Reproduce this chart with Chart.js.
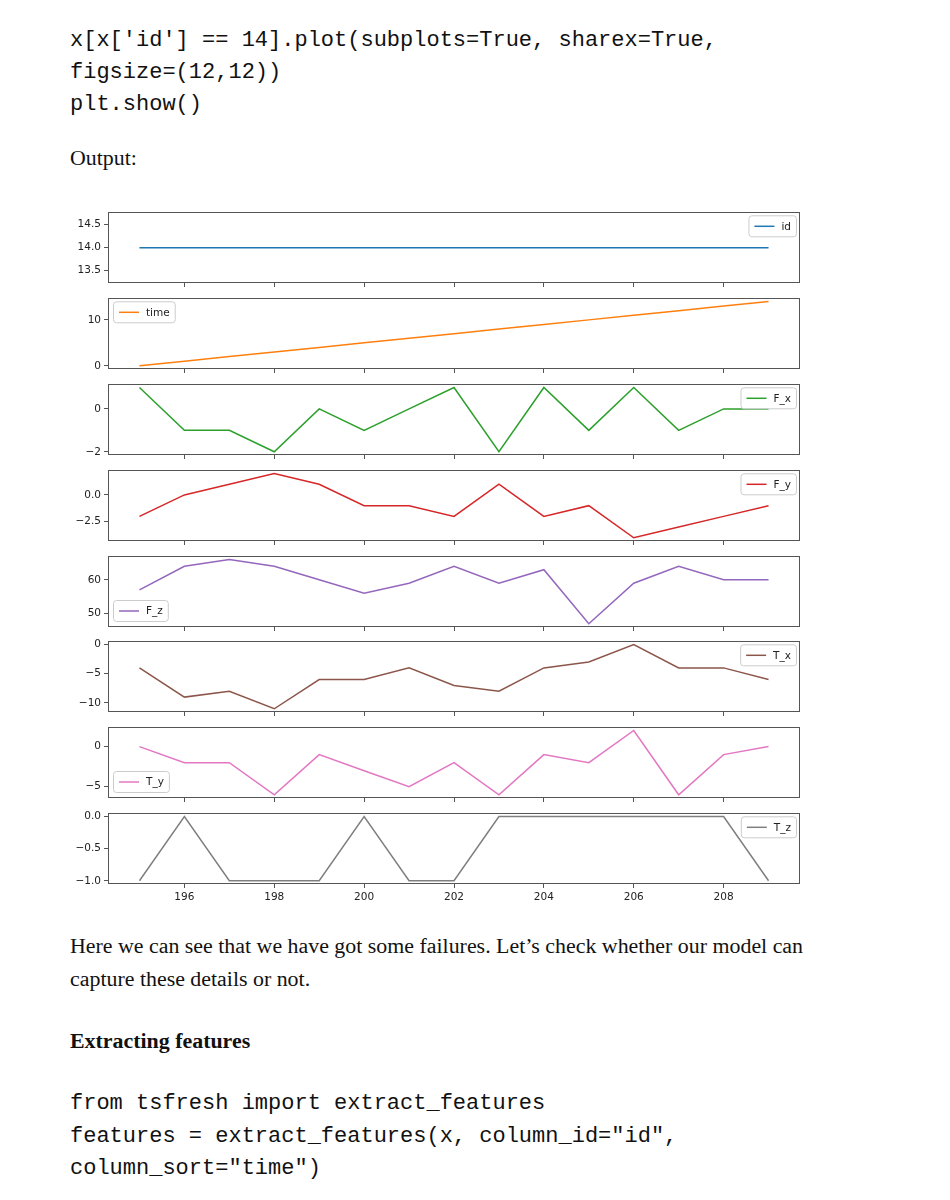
<!DOCTYPE html>
<html><head><meta charset="utf-8">
<script src="https://cdn.jsdelivr.net/npm/chart.js@4"></script>
<style>
body{margin:0;background:#fff;width:950px;height:1200px;position:relative;overflow:hidden}
.t{position:absolute;left:70px;white-space:pre;color:#111}
.mono{font-family:"Liberation Mono",monospace;font-size:22px;line-height:30px}
.serif{font-family:"Liberation Serif",serif;font-size:21.9px;line-height:30px}
.bold{font-weight:bold}
.box{position:absolute;left:60px;width:760px}
</style></head><body>
<div class="t mono" style="top:26px">x[x['id'] == 14].plot(subplots=True, sharex=True,</div>
<div class="t mono" style="top:58px">figsize=(12,12))</div>
<div class="t mono" style="top:90px">plt.show()</div>
<div class="t serif" style="top:143px">Output:</div>
<div id="charts"></div>
<div class="t serif" style="top:931px">Here we can see that we have got some failures. Let’s check whether our model can</div>
<div class="t serif" style="top:964px">capture these details or not.</div>
<div class="t serif bold" style="top:1026px">Extracting features</div>
<div class="t mono" style="top:1089px">from tsfresh import extract_features</div>
<div class="t mono" style="top:1122px">features = extract_features(x, column_id="id",</div>
<div class="t mono" style="top:1154px">column_sort="time")</div>
<script>
const xValues = [195,196,197,198,199,200,201,202,203,204,205,206,207,208,209];
const xTicks = [196,198,200,202,204,206,208];
const idVals = [14,14,14,14,14,14,14,14,14,14,14,14,14,14,14];
const timeVals = [0,1,2,3,4,5,6,7,8,9,10,11,12,13,14];
const fxVals = [1,-1,-1,-2,0,-1,0,1,-2,1,-1,1,-1,0,0];
const fyVals = [-2,0,1,2,1,-1,-1,-2,1,-2,-1,-4,-3,-2,-1];
const fzVals = [57,64,66,64,60,56,59,64,59,63,47,59,64,60,60];
const txVals = [-4,-9,-8,-11,-6,-6,-4,-7,-8,-4,-3,0,-4,-4,-6];
const tyVals = [0,-2,-2,-6,-1,-3,-5,-2,-6,-1,-2,2,-6,-1,0];
const tzVals = [-1,0,-1,-1,-1,0,-1,-1,0,0,0,0,0,0,-1];
const seriesNames = ["id","time","F_x","F_y","F_z","T_x","T_y","T_z"];
const seriesValues = [idVals,timeVals,fxVals,fyVals,fzVals,txVals,tyVals,tzVals];
const seriesColors = ["#1f77b4","#ff7f0e","#2ca02c","#d62728","#9467bd","#8c564b","#e377c2","#7f7f7f"];
const yTickValues = [[13.5,14.0,14.5],[0,10],[-2,0],[-2.5,0.0],[50,60],[-10,-5,0],[-5,0],[-1.0,-0.5,0.0]];
const yTickLabels = [["13.5","14.0","14.5"],["0","10"],["−2","0"],["−2.5","0.0"],["50","60"],["−10","−5","0"],["−5","0"],["−1.0","−0.5","0.0"]];
const yMins = [13.23,-0.7,-2.15,-4.3,46.05,-11.55,-6.4,-1.05];
const yMaxs = [14.77,14.7,1.15,2.3,66.95,0.55,2.4,0.05];
const legendPos = ["ur","ul","ur","ur","ll","ur","ll","ur"];
const xMin = 194.3, xMax = 209.7;

const axTops = [211,297,383,469,555,640,726,812];
const AXH = 72, PADT = 8, XH = 28;
const FONT = 10.5;

const framePlugin = {
  id:'frame',
  afterDraw(chart){
    const ctx = chart.ctx, a = chart.chartArea;
    ctx.save();
    ctx.strokeStyle = '#555'; ctx.lineWidth = 1;
    ctx.strokeRect(Math.round(a.left)+0.5, Math.round(a.top)+0.5, Math.round(a.right-a.left)-1, Math.round(a.bottom-a.top)-1);
    const idx = chart.options.plugins.frame.idx;
    const label = chart.data.datasets[0].label;
    const color = chart.data.datasets[0].borderColor;
    const pos = legendPos[idx];
    ctx.font = FONT + 'px "DejaVu Sans"';
    const tw = ctx.measureText(label).width;
    const w = 6+20+7+tw+5, h = 21;
    const x = pos[1]==='r' ? a.right - 4 - w : a.left + 5;
    const y = pos[0]==='u' ? a.top + 3 : a.bottom - 6 - h;
    ctx.beginPath();
    ctx.roundRect(x+0.5, y+0.5, w, h, 3);
    ctx.fillStyle = 'rgba(255,255,255,0.8)'; ctx.fill();
    ctx.strokeStyle = '#cccccc'; ctx.lineWidth = 1; ctx.stroke();
    ctx.beginPath();
    ctx.moveTo(x+6, y+h/2+0.5); ctx.lineTo(x+26, y+h/2+0.5);
    ctx.strokeStyle = color; ctx.lineWidth = 1.5; ctx.stroke();
    ctx.fillStyle = '#222'; ctx.textBaseline = 'middle'; ctx.textAlign = 'left';
    ctx.fillText(label, x+33, y+h/2+1);
    ctx.restore();
  }
};

const holder = document.getElementById('charts');
seriesNames.forEach((name, i) => {
  const div = document.createElement('div');
  div.className = 'box';
  div.style.top = (axTops[i]-PADT)+'px';
  div.style.height = (PADT+AXH+XH)+'px';
  const cv = document.createElement('canvas');
  cv.width = 760; cv.height = PADT+AXH+XH;
  cv.style.width = '760px'; cv.style.height = (PADT+AXH+XH)+'px';
  div.appendChild(cv); holder.appendChild(div);
  const last = i === seriesNames.length-1;
  new Chart(cv, {
    type:'line',
    data:{datasets:[{label:name, data:xValues.map((xv,k)=>({x:xv,y:seriesValues[i][k]})),
      borderColor:seriesColors[i], borderWidth:1.5, pointRadius:0, tension:0, fill:false}]},
    options:{
      responsive:false, animation:false, events:[],
      layout:{padding:{top:PADT,right:20,left:0,bottom:0}},
      plugins:{legend:{display:false}, tooltip:{enabled:false}, frame:{idx:i}},
      scales:{
        x:{type:'linear', min:xMin, max:xMax,
          afterBuildTicks:s=>{s.ticks = xTicks.map(v=>({value:v}));},
          afterFit:s=>{s.height = XH;},
          grid:{drawOnChartArea:false, drawTicks:true, tickLength:4, color:'#555'},
          border:{display:false},
          ticks:{autoSkip:false, maxRotation:0, padding:3, color:'#222',
            font:{family:'DejaVu Sans', size:FONT},
            callback:v=> last ? String(v) : ''}},
        y:{type:'linear', min:yMins[i], max:yMaxs[i],
          afterBuildTicks:s=>{s.ticks = yTickValues[i].map(v=>({value:v}));},
          afterFit:s=>{s.width = 48;},
          grid:{drawOnChartArea:false, drawTicks:true, tickLength:4, color:'#555'},
          border:{display:false},
          ticks:{autoSkip:false, padding:3, color:'#222',
            font:{family:'DejaVu Sans', size:FONT},
            callback:(v,k)=>{const j = yTickValues[i].indexOf(v); return j>=0 ? yTickLabels[i][j] : '';}}}
      }
    },
    plugins:[framePlugin]
  });
});
</script>
</body></html>
